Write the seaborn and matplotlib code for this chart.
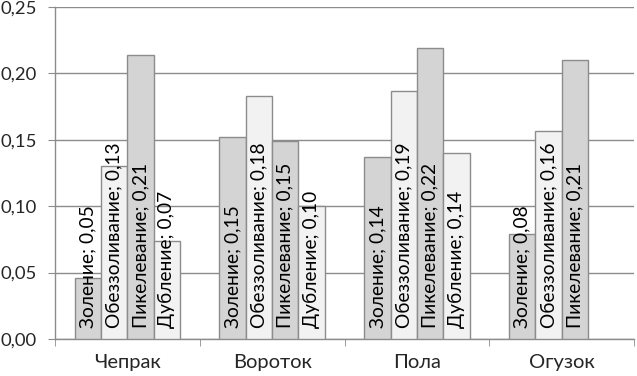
import matplotlib
matplotlib.use("Agg")
import matplotlib.pyplot as plt
from matplotlib.ticker import FuncFormatter, FixedLocator
import numpy as np
import pandas as pd
import seaborn as sns

# данные с графика
categories = ["Чепрак", "Вороток", "Пола", "Огузок"]
stages = ["Золение", "Обеззоливание", "Пикелевание", "Дубление"]
zolenie = [0.046, 0.152, 0.137, 0.079]
obezzol = [0.130, 0.183, 0.187, 0.157]
pikel = [0.214, 0.149, 0.219, 0.210]
dublenie = [0.074, 0.100, 0.140, np.nan]

rows = []
for i, c in enumerate(categories):
    for s, vals in zip(stages, [zolenie, obezzol, pikel, dublenie]):
        rows.append({"cat": c, "stage": s, "val": vals[i]})
df = pd.DataFrame(rows)

sns.set_style("white")
plt.rcParams["font.family"] = ["Lato", "DejaVu Sans"]

fig = plt.figure(figsize=(6.37, 3.76), dpi=100)
ax = fig.add_axes([55 / 637, 37 / 376, 579 / 637, 332 / 376])

pal = {"Золение": "#d4d4d4", "Обеззоливание": "#f2f2f2",
       "Пикелевание": "#d4d4d4", "Дубление": "#f2f2f2"}
sns.barplot(data=df, x="cat", y="val", hue="stage", hue_order=stages,
            order=categories, palette=pal, width=4 / 5.5, gap=0,
            edgecolor="#8c8c8c", linewidth=1, legend=False, ax=ax, zorder=3)

# подписи внутри столбцов
for cont, s in zip(ax.containers, stages):
    for bar in cont:
        h = bar.get_height()
        if np.isnan(h):
            continue
        txt = f"{s}; {h:.2f}".replace(".", ",")
        ax.text(bar.get_x() + bar.get_width() / 2, 0.0085, txt,
                rotation=90, ha="center", va="bottom", fontsize=13.8,
                color="black", zorder=5)

ax.set_ylim(0, 0.25)
ax.set_xlim(-0.5, 3.5)
ax.set_yticks(np.arange(0, 0.2501, 0.05))
ax.yaxis.set_major_formatter(FuncFormatter(lambda v, p: f"{v:.2f}".replace(".", ",")))
ax.grid(axis="y", color="#8c8c8c", linewidth=1, zorder=0)
ax.set_xlabel("")
ax.set_ylabel("")

ax.xaxis.set_minor_locator(FixedLocator([-0.5, 0.5, 1.5, 2.5, 3.5]))
ax.tick_params(axis="x", which="major", length=0, pad=11, labelsize=14.5)
ax.tick_params(axis="x", which="minor", length=5, color="#8c8c8c", direction="out")
ax.tick_params(axis="y", length=5, color="#8c8c8c", direction="out", labelsize=13.3, pad=8)
ax.xaxis.set_ticks_position("bottom")
ax.yaxis.set_ticks_position("left")

for side in ["top", "right"]:
    ax.spines[side].set_visible(False)
for side in ["left", "bottom"]:
    ax.spines[side].set_color("#8c8c8c")
    ax.spines[side].set_linewidth(1)

fig.savefig("out.png", dpi=100)
